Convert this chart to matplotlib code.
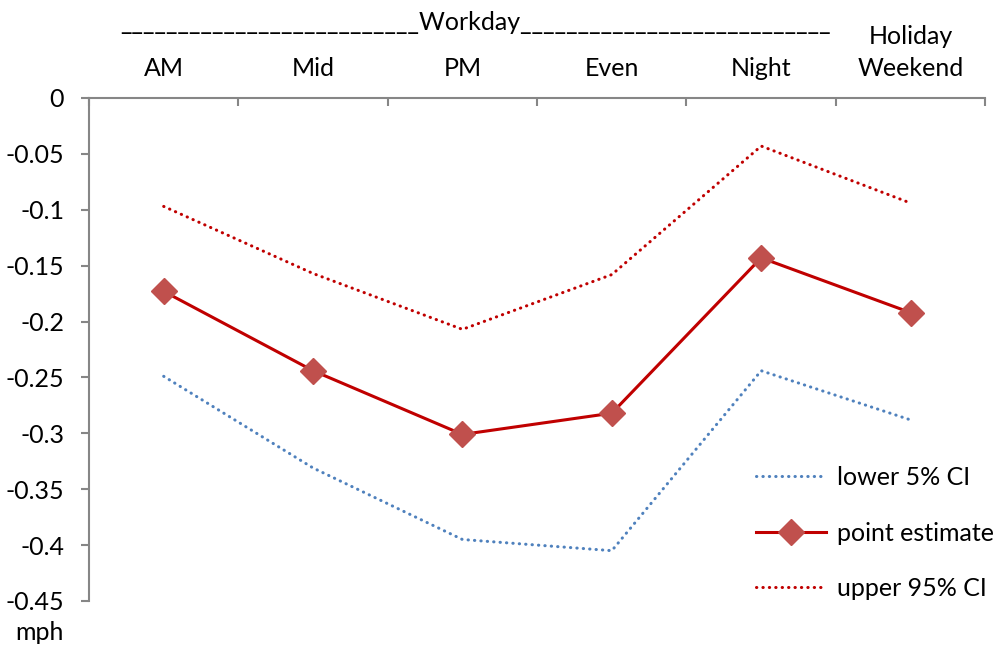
import matplotlib.pyplot as plt

plt.rcParams['font.family'] = ['Lato', 'DejaVu Sans']

# categories along the top axis
categories = ["AM", "Mid", "PM", "Even", "Night", "Holiday\nWeekend"]

# values (mph)
lower_ci = [-0.249, -0.331, -0.395, -0.405, -0.244, -0.288]
point_est = [-0.173, -0.244, -0.301, -0.282, -0.143, -0.192]
upper_ci = [-0.097, -0.157, -0.207, -0.158, -0.043, -0.094]

y_ticks = [0, -0.05, -0.1, -0.15, -0.2, -0.25, -0.3, -0.35, -0.4, -0.45]
y_labels = ["0", "-0.05", "-0.1", "-0.15", "-0.2", "-0.25", "-0.3", "-0.35", "-0.4", "-0.45"]

axis_grey = "#868686"
fs = 18
dots = (0, (0.1, 2.0))

fig = plt.figure(figsize=(9.98, 6.49), dpi=100)
ax = fig.add_axes([0.0892, 0.074, 0.898, 0.775])

x = list(range(len(categories)))
ax.plot(x, lower_ci, color="#4F81BD", lw=2.2, linestyle=dots,
        dash_capstyle="round", label="lower 5% CI")
ax.plot(x, point_est, color="#C00000", lw=2.2, marker="D", markersize=13,
        markerfacecolor="#C0504D", markeredgecolor="#C0504D", label="point estimate")
ax.plot(x, upper_ci, color="#C00000", lw=2.2, linestyle=dots,
        dash_capstyle="round", label="upper 95% CI")

ax.set_xlim(-0.5, len(categories) - 0.5)
ax.set_ylim(-0.45, 0)

# category axis on top, tick marks between categories
ax.xaxis.tick_top()
ax.set_xticks(x)
ax.set_xticklabels(categories, fontsize=fs, linespacing=1.45)
ax.tick_params(axis="x", which="major", length=0, pad=13)
ax.set_xticks([i - 0.5 for i in range(len(categories) + 1)], minor=True)
ax.tick_params(axis="x", which="minor", direction="in", length=6,
               width=1.5, color=axis_grey)

ax.set_yticks(y_ticks)
ax.set_yticklabels(y_labels, fontsize=fs)
ax.tick_params(axis="y", length=6, width=1.5, color=axis_grey, pad=12)

for side in ["right", "bottom"]:
    ax.spines[side].set_visible(False)
for side in ["left", "top"]:
    ax.spines[side].set_color(axis_grey)
    ax.spines[side].set_linewidth(1.5)

ax.text(2.09, 1.151, "_" * 26 + "Workday" + "_" * 27, transform=ax.get_xaxis_transform(),
        ha="center", va="center", fontsize=fs)

fig.text(0.04, 0.026, "mph", ha="center", va="center", fontsize=fs)

ax.legend(loc="lower right", bbox_to_anchor=(1.035, -0.043), frameon=False,
          fontsize=fs, labelspacing=1.3, handlelength=2.8, handletextpad=0.45)

fig.savefig("out.png", dpi=100)
